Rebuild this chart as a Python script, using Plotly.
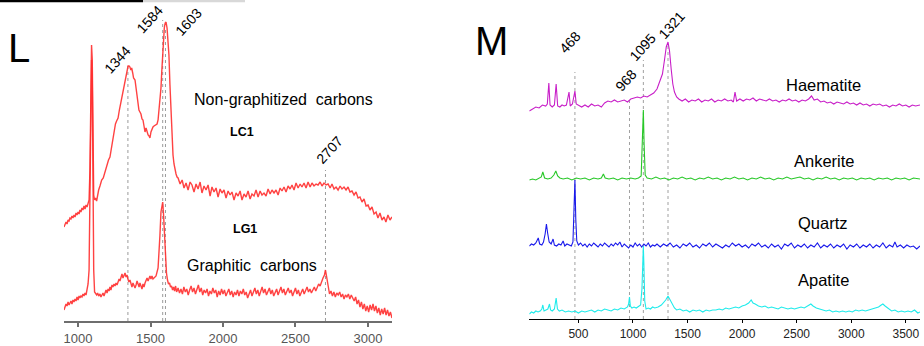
import plotly.graph_objects as go

# ---------------- Panel L data (Raman shift cm-1, intensity a.u.) ----------------
lc1_x = [903,910,917,924,931,938,944,951,958,965,972,979,986,993,1000,1007,1013,1020,1027,1034,1041,1048,1055,1062,1069,1076,
         1082,1088,1093,1098,1103,1108,1114,1120,1128,1135,1142,1151,1163,1174,1186,1200,1210,1220,1230,1241,1250,1258,1266,1276,
         1285,1293,1301,1310,1317,1324,1331,1338,1345,1352,1358,1364,1370,1377,1383,1393,1400,1407,1414,1420,1427,1434,1441,1448,
         1455,1462,1469,1476,1483,1490,1496,1503,1510,1517,1524,1531,1538,1545,1552,1558,1565,1572,1577,1583,1589,1595,1601,1607,
         1614,1621,1627,1634,1641,1648,1655,1662,1669,1676,1683,1690,1697,
         1704,1718,1731,1745,1759,1773,1786,1800,1814,1828,1842,1855,1869,1883,1897,1911,1924,1938,1952,1966,1980,1993,2007,2021,
         2035,2049,2062,2076,2090,2104,2118,2131,2145,2159,2173,2187,2200,2214,2228,2242,2256,2269,2283,2297,2311,2325,2338,2352,
         2366,2380,2394,2407,2421,2435,2449,2463,2476,2490,2504,2518,2532,2545,2559,2573,2587,2601,2614,2628,2642,2656,2670,2683,
         2697,2711,2725,2739,2752,2766,2780,2794,2808,2821,2835,2849,2863,2876,2890,2904,2918,2932,2945,2959,2973,2987,3001,3014,
         3028,3042,3056,3069,3083,3097,3111,3124,3138,3152,3166]
lc1_y = [94,96,99,97,101,100,103,102,105,103,106,104,108,106,109,107,111,109,113,111,115,112,116,114,117,121,
         151,231,276,261,181,126,121,123,120,126,131,135,141,143,149,158,161,164,173,181,189,197,200,203,
         211,217,221,229,236,241,247,252,255,255,254,251,253,248,243,241,233,225,219,211,209,207,202,201,
         195,189,193,188,186,185,183,189,193,194,195,196,196,197,201,209,218,233,248,266,281,293,298,299,
         293,279,266,236,206,183,166,157,151,147,144,143,140,
         137,141,133,138,131,139,136,129,137,132,139,128,135,131,136,125,134,129,133,124,132,128,131,123,
         130,126,129,121,128,125,130,121,127,124,130,122,127,125,131,124,130,126,128,125,132,127,131,128,
         131,126,133,130,134,129,135,132,136,131,138,133,137,134,138,133,139,134,138,135,137,136,139,135,
         138,136,137,133,137,132,134,131,135,132,134,131,134,129,130,126,129,123,124,119,122,115,116,111,
         114,107,109,103,108,101,104,99,106,101,104]

lg1_x = [903,910,917,924,931,938,944,951,958,965,972,979,986,993,1000,1007,1013,1020,1027,1034,1041,1048,1055,1062,1069,1076,
         1082,1088,1093,1098,1103,1108,1114,1120,1128,1135,1142,1151,1158,1165,1172,1179,1186,1193,1200,1207,1214,1220,1227,1234,
         1241,1248,1255,1262,1269,1276,1283,1289,1296,1303,1310,1317,1324,1331,1338,1344,1351,1358,1365,1372,1379,1386,1393,1400,
         1407,1414,1421,1427,1434,1441,1448,1455,1462,1469,1476,1483,1490,1496,1503,1510,1517,1524,1538,1552,1559,1565,1572,1579,
         1584,1590,1596,1603,1610,1617,1624,1631,1638,1645,1652,
         1659,1666,1673,1680,1690,1700,1710,1720,1730,1740,1750,1760,1770,1780,1790,1800,1810,1820,1830,1840,1850,1860,1870,1880,
         1890,1900,1910,1920,1930,1940,1950,1960,1970,1980,1990,2000,2010,2020,2030,2040,2050,2060,2070,2080,2090,2100,2110,2120,
         2130,2140,2150,2160,2170,2180,2190,2200,2210,2220,2230,2240,2250,2260,2270,2280,2290,2300,2310,2320,2330,2340,2350,2360,
         2370,2380,2390,2400,2410,2420,2430,2440,2450,2460,2470,2480,2490,2500,2510,2520,2530,2540,2550,2560,2570,2580,2590,2600,
         2610,2620,2630,2640,2650,2660,2670,2680,2690,2700,2707,2714,2721,2728,2735,2745,2755,2765,2775,2785,2795,2805,2815,2825,
         2835,2845,2855,2865,2875,2885,2895,2905,2915,2925,2935,2945,2955,2965,2975,2985,2995,3005,3015,3025,3035,3045,3055,3065,
         3075,3085,3095,3105,3115,3125,3135,3145,3155,3166]
lg1_y = [11,14,17,15,19,16,18,20,17,21,19,22,20,24,21,25,23,25,24,27,25,28,26,31,37,51,
         121,211,261,241,141,51,29,28,26,28,25,27,24,26,28,25,29,31,28,32,30,34,31,36,
         34,37,35,38,36,39,42,40,44,47,43,46,48,44,46,42,39,41,37,34,38,36,33,36,
         40,37,34,38,35,32,37,34,38,41,43,40,42,45,42,45,42,43,45,53,66,86,109,118,
         119,106,83,61,48,41,37,38,34,35,31,
         34,30,35,29,33,28,32,27,34,29,32,26,31,35,29,33,27,32,36,29,33,26,31,28,
         32,25,30,27,33,28,31,24,30,26,32,27,31,25,29,32,26,30,24,29,26,31,25,30,
         27,32,26,29,23,28,31,25,29,33,27,31,25,30,34,28,32,26,30,33,27,31,25,29,
         32,26,31,34,28,32,26,30,33,28,31,25,30,33,27,31,25,29,32,27,31,34,29,32,
         28,31,34,30,33,37,35,40,43,46,51,45,38,31,27,30,25,29,24,28,26,29,24,27,
         22,26,24,27,22,26,23,20,24,17,21,14,19,12,17,10,15,9,16,11,17,10,15,8,
         13,6,12,7,13,6,11,5,9,3]

# ---------------- Panel M data ----------------
hae_x = [50,80,110,140,170,200,215,229,240,260,280,296,310,330,350,370,390,414,425,445,468,480,500,530,560,590,620,650,680,710,
         740,770,800,830,860,890,920,950,980,1010,1040,1070,1100,1130,1160,1190,1220,1250,1270,1290,1305,1321,1335,1350,1365,1380,
         1400,1420,1450,1480,1510,1540,1570,1600,1630,1660,1690,1720,1750,1780,1810,1840,1870,1900,1920,1935,1950,1980,2010,2040,
         2070,2100,2130,2160,2190,2220,2250,2280,2310,2340,2370,2400,2430,2460,2490,2520,2550,2580,2610,2636,2660,2690,2720,2750,
         2780,2810,2840,2870,2900,2930,2960,2990,3020,3050,3080,3110,3140,3170,3200,3230,3260,3290,3320,3350,3380,3410,3440,3470,
         3500,3530,3560,3590,3630]
hae_y = [208,210,212,211,214,213,215,236,214,212,214,235,213,212,214,213,214,227,213,215,228,215,214,212,214,212,215,213,214,212,
         216,218,217,219,217,218,219,217,220,221,222,221,223,222,224,226,230,238,245,260,272,277,268,250,235,227,
         222,220,218,220,217,219,218,220,217,219,218,220,217,219,218,220,218,219,217,227,218,220,218,220,
         219,221,218,220,219,218,220,218,219,217,219,218,220,218,219,217,219,218,220,223,219,220,217,218,
         216,217,215,217,216,215,217,215,216,214,216,214,215,213,215,214,215,213,214,212,214,213,215,213,
         214,212,214,213,214]

ank_x = [50,80,110,140,160,174,190,220,250,275,293,310,330,360,400,440,480,520,560,600,640,680,710,729,745,780,820,860,900,940,
         980,1020,1050,1075,1088,1095,1102,1112,1130,1170,1210,1250,1290,1330,1370,1410,1450,1490,1530,1570,1610,1650,1690,1730,
         1770,1810,1850,1890,1930,1970,2010,2050,2090,2130,2170,2210,2250,2290,2330,2370,2410,2450,2490,2530,2570,2610,2650,2690,
         2730,2770,2810,2850,2890,2930,2970,3010,3050,3090,3130,3170,3210,3250,3290,3330,3370,3410,3450,3490,3530,3570,3630]
ank_y = [139,140,139,141,142,147,141,140,141,144,148,143,141,140,141,139,141,140,141,139,141,140,141,145,141,140,141,139,141,140,
         141,140,141,143,180,209,175,144,141,140,142,140,141,139,141,140,142,140,141,139,141,140,142,140,
         141,139,141,140,142,140,141,139,141,140,142,140,141,139,141,140,142,140,141,142,140,141,139,141,
         140,142,140,141,139,141,140,141,139,141,140,141,139,141,140,141,139,141,140,141,139,141,140]

qtz_x = [50,70,90,110,132,145,165,180,195,207,218,232,250,268,280,300,320,340,360,375,395,415,435,450,460,468,476,485,500,520,
         540,560,580,600,620,640,660,680,700,720,740,760,780,800,820,840,860,880,900,920,940,960,980,1000,1020,1040,1060,1080,1100,
         1120,1140,1160,1180,1200,1220,1250,1280,1310,1340,1370,1400,1430,1460,1490,1520,1550,1580,1610,1640,1670,1700,1730,1760,
         1790,1820,1850,1880,1910,1940,1970,2000,2030,2060,2090,2120,2150,2180,2210,2240,2270,2300,2330,2360,2390,2420,2450,2480,
         2510,2540,2570,2600,2630,2660,2690,2720,2750,2780,2810,2840,2870,2900,2930,2960,2990,3020,3050,3080,3110,3140,3170,3200,
         3230,3260,3290,3320,3350,3380,3400,3420,3450,3480,3510,3540,3570,3600,3630]
qtz_y = [73,75,74,76,81,75,74,77,85,95,86,77,75,80,74,73,75,74,78,73,75,74,73,77,110,139,100,78,74,76,
         73,75,72,75,73,76,74,72,75,73,76,74,72,75,73,76,74,77,72,75,73,71,74,72,76,73,75,72,75,
         73,76,72,74,73,75,72,75,73,76,72,74,71,75,73,76,72,74,71,75,73,76,72,75,
         73,71,74,72,76,73,75,72,74,71,75,73,76,72,74,71,75,72,74,70,75,73,76,71,
         74,72,75,71,74,72,76,71,74,72,75,71,74,72,75,70,74,72,75,71,74,72,75,71,
         74,72,76,71,74,72,77,72,74,71,74,72,73,70,73]

apa_x = [50,70,90,110,130,150,165,174,185,200,220,235,245,260,280,296,308,325,350,380,410,440,470,500,530,560,590,620,650,680,
         710,740,770,800,830,860,890,920,950,960,968,976,990,1010,1030,1050,1070,1082,1090,1095,1100,1108,1120,1140,1160,1180,1200,
         1230,1260,1280,1300,1321,1340,1360,1380,1400,1430,1460,1490,1520,1550,1580,1610,1640,1670,1700,1730,1760,1790,1820,1850,
         1880,1910,1940,1970,2000,2030,2060,2083,2100,2120,2150,2180,2210,2240,2270,2300,2330,2360,2390,2420,2450,2480,2510,2540,
         2570,2600,2630,2650,2680,2710,2740,2770,2800,2830,2860,2890,2920,2950,2980,3010,3040,3070,3100,3130,3160,3190,3220,3250,
         3275,3290,3310,3340,3370,3400,3430,3460,3490,3520,3550,3580,3610,3630]
apa_y = [5,7,6,8,7,8,10,14,8,9,10,15,9,8,10,21,10,8,9,7,8,7,8,6,8,7,8,9,7,9,
         8,10,9,8,10,9,11,10,12,15,22,13,11,12,11,13,14,30,65,73,55,18,10,11,10,12,11,
         12,14,16,19,23,19,15,11,9,10,8,9,7,9,8,9,7,9,8,9,9,10,9,11,
         10,11,12,11,13,14,16,19,16,15,13,12,13,11,12,11,10,12,11,10,11,10,11,12,
         11,13,15,13,11,10,9,8,9,7,8,7,8,7,8,7,9,8,9,8,9,10,11,12,
         14,15,13,10,8,9,7,8,7,8,7,9,6,7]

# peak markers and labels
l_peaks = [1344, 1584, 1603, 2707]
l_peak_tops = [256, 301, 291, 151]
m_peaks = [468, 968, 1095, 1321]
m_peak_tops = [247, 221, 259, 274]
l_ticks = [1000, 1500, 2000, 2500, 3000]
m_ticks = [500, 1000, 1500, 2000, 2500, 3000, 3500]

FONT = "Arial, Liberation Sans, sans-serif"
red = "rgba(255,45,45,0.9)"

fig = go.Figure()
fig.add_trace(go.Scatter(x=lc1_x, y=lc1_y, mode="lines", line=dict(color=red, width=1.4), xaxis="x", yaxis="y"))
fig.add_trace(go.Scatter(x=lg1_x, y=lg1_y, mode="lines", line=dict(color=red, width=1.4), xaxis="x", yaxis="y"))

m_series = [(hae_x, hae_y, "rgb(200,30,200)"), (ank_x, ank_y, "rgb(40,200,40)"),
            (qtz_x, qtz_y, "rgb(25,25,235)"), (apa_x, apa_y, "rgb(30,235,235)")]
for xs, ys, c in m_series:
    fig.add_trace(go.Scatter(x=xs, y=ys, mode="lines", line=dict(color=c, width=1.1), xaxis="x2", yaxis="y2"))

shapes = []
for p, t in zip(l_peaks, l_peak_tops):
    shapes.append(dict(type="line", xref="x", yref="y", x0=p, x1=p, y0=0, y1=t,
                       line=dict(color="#9a9a9a", width=1, dash="dot"), layer="below"))
for p, t in zip(m_peaks, m_peak_tops):
    shapes.append(dict(type="line", xref="x2", yref="y2", x0=p, x1=p, y0=0, y1=t,
                       line=dict(color="#a0a0a0", width=1, dash="dot"), layer="below"))
# fragment of a rule at the very top-left edge
shapes.append(dict(type="line", xref="paper", yref="paper", x0=0, x1=143/924, y0=1-1/346, y1=1-1/346,
                   line=dict(color="black", width=2.5)))
shapes.append(dict(type="line", xref="paper", yref="paper", x0=143/924, x1=245/924, y0=1-1/346, y1=1-1/346,
                   line=dict(color="#d8d8d8", width=2.5)))

ann = []
def txt(x, y, s, size, xref="x", yref="y", angle=0, bold=False):
    ann.append(dict(x=x, y=y, xref=xref, yref=yref, text=("<b>%s</b>" % s if bold else s), showarrow=False,
                    textangle=angle, font=dict(family=FONT, size=size, color="black"),
                    xanchor="center", yanchor="middle"))

# Panel L texts
txt(1269, 261, "1344", 14, angle=-48)
txt(1496, 302, "1584", 14, angle=-48)
txt(1761, 299, "1603", 14, angle=-48)
txt(2734, 171, "2707", 14, angle=-48)
txt(2414, 222, "Non-graphitized  carbons", 16)
txt(2131, 189, "LC1", 12.5, bold=True)
txt(2152, 92, "LG1", 12.5, bold=True)
txt(2200, 56, "Graphitic  carbons", 16)
txt(19/924, 1-48/346, "L", 40, xref="paper", yref="paper")

# Panel M texts
txt(424, 277, "468", 14, xref="x2", yref="y2", angle=-48)
txt(937, 239, "968", 14, xref="x2", yref="y2", angle=-48)
txt(1090, 272, "1095", 14, xref="x2", yref="y2", angle=-48)
txt(1355, 294, "1321", 14, xref="x2", yref="y2", angle=-48)
txt(2749, 234, "Haematite", 16.5, xref="x2", yref="y2")
txt(2758, 158, "Ankerite", 16.5, xref="x2", yref="y2")
txt(2741, 96, "Quartz", 16.5, xref="x2", yref="y2")
txt(2749, 39, "Apatite", 16.5, xref="x2", yref="y2")
txt(492/924, 1-41/346, "M", 40, xref="paper", yref="paper")

fig.update_layout(
    width=924, height=346, margin=dict(l=0, r=0, t=0, b=0),
    paper_bgcolor="white", plot_bgcolor="white", showlegend=False,
    shapes=shapes, annotations=ann,
    xaxis=dict(domain=[64/924, 392/924], range=[903, 3166], tickvals=l_ticks, ticks="outside", ticklen=4,
               tickcolor="#6e6e6e", tickwidth=1.5, showline=True, linecolor="#6e6e6e", linewidth=2,
               showgrid=False, zeroline=False, tickfont=dict(family=FONT, size=13, color="#555555"), anchor="y"),
    yaxis=dict(domain=[25/346, 1], range=[0, 321], visible=False, anchor="x"),
    xaxis2=dict(domain=[529.3/924, 920/924], range=[50, 3630], tickvals=m_ticks, ticks="outside", ticklen=3,
                tickcolor="black", tickwidth=1, showline=True, linecolor="black", linewidth=1.2,
                showgrid=False, zeroline=False, tickfont=dict(family=FONT, size=12, color="#222222"), anchor="y2"),
    yaxis2=dict(domain=[27/346, 1], range=[0, 319], visible=False, anchor="x2"),
)
fig.write_html("out.html", config={"displayModeBar": False},
               post_script="document.body.style.margin='0';document.body.style.overflow='hidden';")
